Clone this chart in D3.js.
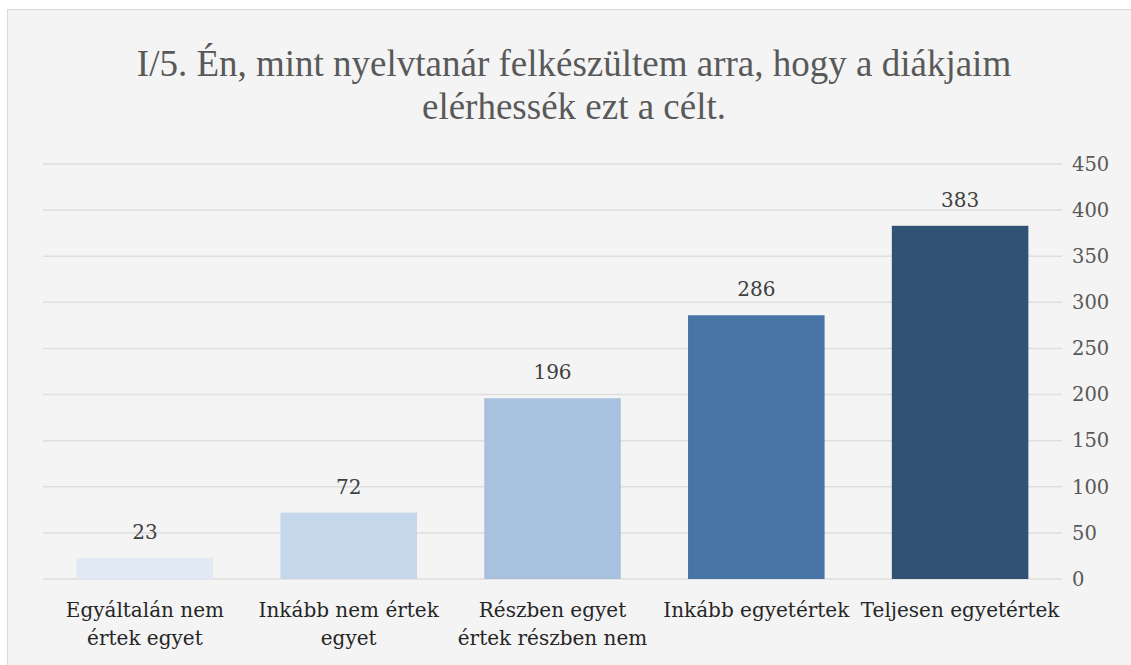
<!DOCTYPE html>
<html>
<head>
<meta charset="utf-8">
<script src="https://cdn.jsdelivr.net/npm/d3@7"></script>
<style>
  body { margin: 0; background: #ffffff; }
</style>
</head>
<body>
<div id="chart"></div>
<script>
// data
const categories = ["Egyáltalán nem értek egyet", "Inkább nem értek egyet", "Részben egyet értek részben nem", "Inkább egyetértek", "Teljesen egyetértek"];
const categoryLines = [["Egyáltalán nem", "értek egyet"], ["Inkább nem értek", "egyet"], ["Részben egyet", "értek részben nem"], ["Inkább egyetértek"], ["Teljesen egyetértek"]];
const values = [23, 72, 196, 286, 383];
const barColors = ["#e1e9f4", "#c5d7eb", "#a7c1df", "#4674a5", "#2f5275"];
const yTicks = [0, 50, 100, 150, 200, 250, 300, 350, 400, 450];
const titleLines = ["I/5. Én, mint nyelvtanár felkészültem arra, hogy a diákjaim", "elérhessék ezt a célt."];

const W = 1131, H = 665;
const plotLeft = 43, plotRight = 1062, plotTop = 164, plotBottom = 579;

const svg = d3.select("#chart")
  .append("svg")
  .attr("width", W)
  .attr("height", H);

// chart area
svg.append("rect")
  .attr("x", 7.5).attr("y", 9.5)
  .attr("width", W).attr("height", H)
  .attr("fill", "#f4f4f4")
  .attr("stroke", "#d9d9d9");

// title
svg.append("g").selectAll("text")
  .data(titleLines).enter()
  .append("text")
  .attr("x", 574)
  .attr("y", (d, i) => 76 + i * 43)
  .attr("text-anchor", "middle")
  .style("font-family", "'Liberation Serif', serif")
  .style("font-size", "37px")
  .style("fill", "#595959")
  .text(d => d);

const x = d3.scaleBand()
  .domain(categories)
  .range([plotLeft, plotRight])
  .paddingInner(0.33)
  .paddingOuter(0.165);

const y = d3.scaleLinear()
  .domain([0, 450])
  .range([plotBottom, plotTop]);

// grid lines
svg.append("g")
  .selectAll("line")
  .data(yTicks).enter()
  .append("line")
  .attr("x1", plotLeft).attr("x2", plotRight)
  .attr("y1", d => y(d)).attr("y2", d => y(d))
  .attr("stroke", "#dedede")
  .attr("stroke-width", 1.5);

// right axis
const yAxis = svg.append("g")
  .attr("transform", "translate(" + (plotRight + 10) + ",0)")
  .call(d3.axisRight(y).tickValues(yTicks).tickSize(0).tickPadding(0));
yAxis.select(".domain").remove();
yAxis.selectAll("text")
  .style("font-family", "'DejaVu Serif', serif")
  .style("font-size", "19.5px")
  .style("fill", "#595959");

// bars
svg.append("g")
  .selectAll("rect")
  .data(values).enter()
  .append("rect")
  .attr("x", (d, i) => x(categories[i]))
  .attr("y", d => y(d))
  .attr("width", x.bandwidth())
  .attr("height", d => y(0) - y(d))
  .attr("fill", (d, i) => barColors[i]);

// value labels
svg.append("g")
  .selectAll("text")
  .data(values).enter()
  .append("text")
  .attr("x", (d, i) => x(categories[i]) + x.bandwidth() / 2)
  .attr("y", d => y(d) - 19)
  .attr("text-anchor", "middle")
  .style("font-family", "'DejaVu Serif', serif")
  .style("font-size", "20px")
  .style("fill", "#404040")
  .text(d => d);

// category labels
const cat = svg.append("g")
  .selectAll("text")
  .data(categoryLines).enter()
  .append("text")
  .attr("x", (d, i) => x(categories[i]) + x.bandwidth() / 2)
  .attr("y", 617)
  .attr("text-anchor", "middle")
  .style("font-family", "'DejaVu Serif', serif")
  .style("font-size", "20px")
  .style("fill", "#262626");

cat.selectAll("tspan")
  .data(d => d).enter()
  .append("tspan")
  .attr("x", function () { return d3.select(this.parentNode).attr("x"); })
  .attr("dy", (d, i) => i === 0 ? 0 : 28)
  .text(d => d);
</script>
</body>
</html>
